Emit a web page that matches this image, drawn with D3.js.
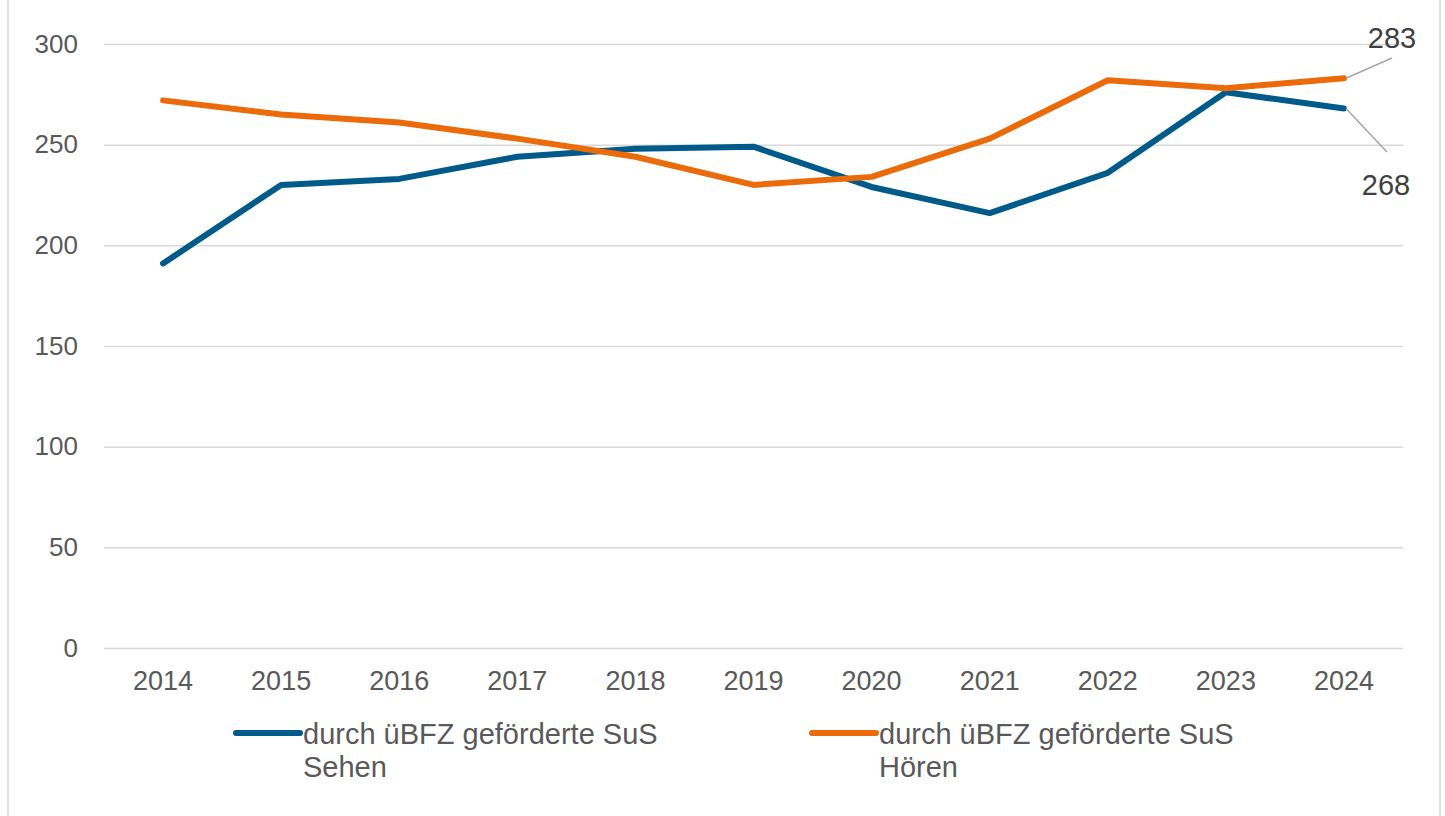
<!DOCTYPE html>
<html>
<head>
<meta charset="utf-8">
<script src="https://cdn.jsdelivr.net/npm/d3@7"></script>
<style>
  body { margin: 0; background: #fff; }
  text { font-family: "Liberation Sans", Arial, sans-serif; }
</style>
</head>
<body>
<svg id="chart" width="1445" height="816"></svg>
<script>
// Schüler/innen, durch üBFZ gefördert

var years = ["2014", "2015", "2016", "2017", "2018", "2019", "2020", "2021", "2022", "2023", "2024"];
var sehen = [191, 230, 233, 244, 248, 249, 229, 216, 236, 276, 268];
var hoeren = [272, 265, 261, 253, 244, 230, 234, 253, 282, 278, 283];
var yTicks = [0, 50, 100, 150, 200, 250, 300];
var seriesNames = ["durch üBFZ geförderte SuS Sehen", "durch üBFZ geförderte SuS Hören"];

var svg = d3.select("#chart");
var plotLeft = 104, plotRight = 1403, plotTop = 44, plotBottom = 648;

var x = d3.scaleBand().domain(years).range([plotLeft, plotRight]);
var y = d3.scaleLinear().domain([0, 300]).range([plotBottom, plotTop]);

// chart frame (only the sides are visible)
svg.append("line").attr("x1", 8).attr("x2", 8).attr("y1", 0).attr("y2", 816)
  .attr("stroke", "#d9d9d9").attr("stroke-width", 1.5);
svg.append("line").attr("x1", 1440).attr("x2", 1440).attr("y1", 0).attr("y2", 816)
  .attr("stroke", "#d9d9d9").attr("stroke-width", 1.5);

// gridlines + y labels
var yAxis = d3.axisLeft(y).tickValues(yTicks).tickSize(-(plotRight - plotLeft)).tickPadding(26);
var gy = svg.append("g").attr("transform", "translate(" + plotLeft + ",0)").call(yAxis);
gy.select(".domain").remove();
gy.selectAll(".tick line").attr("stroke", "#d9d9d9").attr("stroke-width", 1.5);
gy.selectAll(".tick text").attr("fill", "#595959").style("font-size", "26px")
  .style("font-family", "'Liberation Sans', Arial, sans-serif");

// x labels
var xAxis = d3.axisBottom(x).tickSize(0).tickPadding(23);
var gx = svg.append("g").attr("transform", "translate(0," + plotBottom + ")").call(xAxis);
gx.select(".domain").remove();
gx.selectAll(".tick text").attr("fill", "#595959").style("font-size", "27px")
  .style("font-family", "'Liberation Sans', Arial, sans-serif");

var cx = function (d, i) { return x(years[i]) + x.bandwidth() / 2; };
var line = d3.line().x(cx).y(function (d) { return y(d); });

var series = [
  { name: seriesNames[0], values: sehen, color: "#005b8a" },
  { name: seriesNames[1], values: hoeren, color: "#eb6a0a" }
];

series.forEach(function (s) {
  svg.append("path").datum(s.values).attr("d", line)
    .attr("fill", "none").attr("stroke", s.color).attr("stroke-width", 6)
    .attr("stroke-linejoin", "round").attr("stroke-linecap", "round");
});

// data labels for the last year, with leader lines
var lastX = cx(null, years.length - 1);
var labels = [
  { v: hoeren[10], lx: 1392, ly: 58, tx: 1392, ty: 48 },
  { v: sehen[10], lx: 1387, ly: 152, tx: 1386, ty: 195 }
];
labels.forEach(function (l) {
  svg.append("line").attr("x1", lastX + 2).attr("y1", y(l.v)).attr("x2", l.lx).attr("y2", l.ly)
    .attr("stroke", "#a6a6a6").attr("stroke-width", 1.5);
  svg.append("text").attr("x", l.tx).attr("y", l.ty).attr("text-anchor", "middle")
    .attr("fill", "#404040").style("font-size", "29px").text(l.v);
});

// legend
var legendPos = [236, 812];
series.forEach(function (s, i) {
  var lx = legendPos[i];
  svg.append("line").attr("x1", lx).attr("x2", lx + 64).attr("y1", 733).attr("y2", 733)
    .attr("stroke", s.color).attr("stroke-width", 6).attr("stroke-linecap", "round");
  var words = s.name.split(" ");
  var t = svg.append("text").attr("fill", "#595959").style("font-size", "29px");
  t.append("tspan").attr("x", lx + 67).attr("y", 744).text(words.slice(0, 4).join(" "));
  t.append("tspan").attr("x", lx + 67).attr("y", 777).text(words.slice(4).join(" "));
});
</script>
</body>
</html>
